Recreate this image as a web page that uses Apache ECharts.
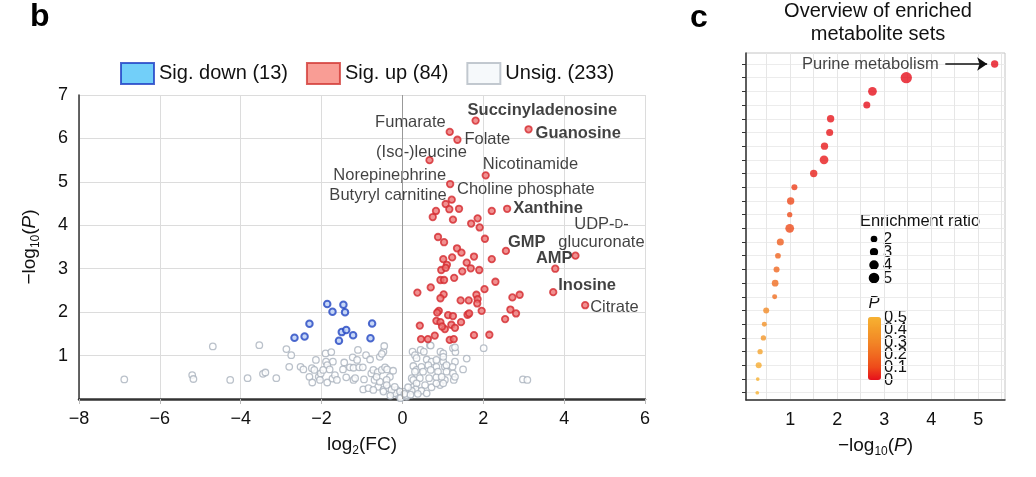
<!DOCTYPE html>
<html><head><meta charset="utf-8">
<script src="https://cdn.jsdelivr.net/npm/echarts@6/dist/echarts.min.js"></script>
<style>html,body{margin:0;padding:0;background:#fff}#chart{width:1036px;height:477px}</style>
</head><body><div id="chart"></div>
<script>
// ---------- Panel b: volcano plot data [log2(FC), -log10(P)] ----------
const sigDown = [
  [-1.86,2.19],[-1.46,2.17],[-1.73,2.01],[-1.42,2.00],[-2.30,1.73],[-0.75,1.74],[-2.67,1.41],
  [-2.42,1.44],[-1.50,1.54],[-1.39,1.59],[-1.22,1.47],[-1.57,1.34],[-0.79,1.40]
];
const sigUp = [
  [1.81,6.41],[3.12,6.21],[1.17,6.15],[1.36,5.97],[0.67,5.50],[2.06,5.15],[1.18,4.95],[1.22,4.59],
  [1.07,4.49],[1.16,4.37],[1.40,4.38],[0.83,4.33],[0.75,4.19],[1.25,4.13],[2.21,4.33],[2.59,4.38],
  [1.86,4.16],[1.70,4.04],[1.91,3.95],[2.04,3.69],[0.88,3.73],[1.03,3.61],[1.35,3.47],[1.46,3.37],
  [1.77,3.28],[2.56,3.41],[4.28,3.30],
  [1.01,3.22],[1.23,3.26],[2.21,3.22],[3.78,3.00],[1.59,3.14],[1.10,3.09],[0.96,2.97],[1.07,3.02],
  [1.48,2.94],[1.69,3.01],[1.90,2.97],[1.28,2.79],[0.94,2.74],[1.03,2.74],[2.30,2.70],[0.70,2.57],
  [0.37,2.45],[1.02,2.41],[2.03,2.53],[3.73,2.46],[0.94,2.32],[1.83,2.40],[1.86,2.30],[1.44,2.27],
  [1.64,2.27],[1.85,2.20],[2.72,2.34],[2.90,2.40],[4.52,2.16],[0.90,2.03],[0.86,1.99],[1.13,1.93],
  [1.25,1.91],[1.61,1.94],[1.65,1.97],[1.96,2.03],[2.67,2.06],[2.81,1.97],[0.84,1.80],[0.94,1.77],
  [1.21,1.71],[1.30,1.64],[1.45,1.77],[1.05,1.61],[0.98,1.67],[2.54,1.84],[0.43,1.69],[0.46,1.38],
  [0.63,1.38],[0.80,1.46],[1.17,1.36],[1.27,1.38],[1.77,1.47],[2.15,1.48]
];
const unsig = [
  [-6.88,0.45],[-5.20,0.55],[-5.17,0.46],[-4.69,1.21],[-4.26,0.44],[-3.83,0.48],[-3.54,1.24],[-3.45,0.58],
  [-3.39,0.61],[-3.12,0.48],[-2.87,1.15],[-2.75,1.01],[-2.80,0.74],[-2.52,0.74],[-2.45,0.68],[-2.24,0.71],
  [-2.18,0.67],[-2.30,0.51],[-2.14,0.90],[-2.07,0.51],[-2.04,0.44],[-2.23,0.38],[-2.02,0.59],[-1.90,1.05],
  [-1.76,1.08],[-1.89,0.86],[-1.72,0.86],[-1.86,0.78],[-1.80,0.68],[-1.96,0.67],[-1.86,0.38],[-1.73,0.47],
  [-1.67,0.55],[-1.62,0.44],[-1.44,0.84],[-1.47,0.68],[-1.39,0.50],[-1.30,0.73],[-1.21,0.44],[-1.17,0.48],
  [-1.10,1.13],[-1.23,0.96],[-1.12,0.90],[-1.21,0.72],[-1.07,0.73],[-0.98,0.73],[-0.90,1.01],[-0.80,0.91],
  [-0.95,0.45],[-0.97,0.22],[-0.84,0.25],[-0.77,0.59],[-0.72,0.67],[-0.69,0.44],[-0.56,0.97],[-0.47,1.09],
  [-0.45,1.22],[-0.51,1.04],[-0.61,0.62],[-0.51,0.67],[-0.43,0.73],[-0.38,0.68],[-0.23,0.65],[-0.31,0.51],
  [-0.39,0.44],[-0.60,0.28],[-0.47,0.21],[-0.35,0.25],[-0.23,0.13],[-0.10,0.09],[-0.02,0.05],[0.02,0.17],
  [0.10,0.05],[-0.14,0.21],[0.25,1.09],[0.31,1.01],[0.27,0.76],[0.35,0.67],[0.23,0.48],[0.27,0.28],
  [2.01,1.17],[1.59,0.93],[0.94,1.09],[1.01,1.05],[1.25,1.17],[1.31,1.08],[0.45,1.13],[0.53,1.09],
  [0.68,1.24],[0.35,0.94],[0.60,0.91],[0.72,0.86],[0.84,0.90],[1.01,0.86],[1.30,0.86],[1.24,0.74],
  [1.05,0.74],[0.84,0.74],[0.64,0.78],[0.47,0.74],[0.31,0.63],[0.51,0.63],[0.70,0.67],[0.88,0.63],
  [1.09,0.63],[1.25,0.59],[1.27,0.44],[1.05,0.44],[0.84,0.50],[0.66,0.48],[0.43,0.48],[0.27,0.44],
  [0.35,0.36],[0.56,0.32],[0.72,0.27],[0.93,0.32],[0.33,0.22],[0.23,0.19],[0.47,0.19],[0.60,0.13],
  [0.10,0.09],[-0.19,0.13],[-0.06,0.17],[0.14,0.27],[1.50,0.68],[1.30,1.19],[0.70,1.23],[1.01,0.97],
  [1.09,0.78],[1.30,0.51],[2.98,0.45],[3.09,0.44],[0.97,0.51],[0.84,0.36],[1.01,0.36],
  [-0.72,0.21],[-0.56,0.40],[-0.64,0.51],[-0.39,0.32],[-0.27,0.21],[-0.47,0.17],[-0.19,0.28],
  [-0.05,0.02],[0.05,0.12],[0.20,0.10],[-0.30,0.08],[0.38,0.12]
];
// annotated metabolites: [name, log2FC, -log10P, bold]
const annotations = [
  ['Succinyladenosine',1.81,6.41,true],['Guanosine',3.12,6.21,true],['Fumarate',1.17,6.15,false],
  ['Folate',1.36,5.97,false],['(Iso-)leucine',0.67,5.50,false],['Nicotinamide',2.06,5.15,false],
  ['Norepinephrine',1.18,4.95,false],['Butyryl carnitine',1.22,4.59,false],['Choline phosphate',1.40,4.38,false],
  ['Xanthine',2.59,4.38,true],['UDP-D-glucuronate',4.28,3.30,false],['GMP',2.56,3.41,true],
  ['AMP',3.78,3.00,true],['Inosine',3.73,2.46,true],['Citrate',4.52,2.16,false]
];
const legendNames = ['Sig. down (13)','Sig. up (84)','Unsig. (233)'];
const volcanoXTicks = [-8,-6,-4,-2,0,2,4,6];
const volcanoYTicks = [1,2,3,4,5,6,7];

// ---------- Panel c: enriched metabolite sets ----------
const setNames = ['Purine metabolism','','','','','','','','','','','','','','','','','','','','','','','',''];
const setLog10P = [5.35,3.47,2.75,2.63,1.86,1.84,1.73,1.72,1.50,1.09,1.01,0.99,0.99,0.79,0.74,0.71,0.68,0.67,0.49,0.45,0.43,0.36,0.33,0.31,0.30];
const setEnrichment = [2.4,5.7,3.4,2.2,2.4,2.2,2.4,3.4,2.4,1.6,2.4,1.25,3.4,2.2,1.45,1.6,2.0,1.1,1.6,1.1,1.25,1.25,1.6,0.6,0.6];
const enrichLegendValues = [2,3,4,5];
const pLegendValues = [0.5,0.4,0.3,0.2,0.1,0];
const setXTicks = [1,2,3,4,5];
const setXGrid = [0.5,1,1.5,2,2.5,3,3.5,4,4.5,5,5.5];

// ---------- styles (kept separate from data) ----------
const FONT = '"Liberation Sans", Arial, Helvetica, sans-serif';
const INK = '#111';
const minus = v => String(v).replace('-', '\u2212');
const sizeOf = er => 4.75 * Math.sqrt(er);
const labelPlacement = {
  'Succinyladenosine':['left',-8,-10], 'Guanosine':['left',7,4], 'Fumarate':['right',-4,-9],
  'Folate':['left',7,0], '(Iso-)leucine':['center',-8,-8], 'Nicotinamide':['left',-3,-11],
  'Norepinephrine':['right',-4,-9], 'Butyryl carnitine':['right',-5,-4], 'Choline phosphate':['left',-2,-19],
  'Xanthine':['left',6,0], 'UDP-D-glucuronate':['center',26,-22], 'GMP':['left',2,-8],
  'AMP':['center',-1,-10], 'Inosine':['left',5,-7], 'Citrate':['left',5,2]
};
const labelText = { 'UDP-D-glucuronate': 'UDP-{sc|D}-\nglucuronate' };
const pColors = ['#e60f1c','#ee4a1a','#f06a20','#f28626','#f49c2a','#f7b232'];

const upData = sigUp.map(p => {
  const a = annotations.find(an => an[1] === p[0] && an[2] === p[1]);
  if (!a) return p;
  const pl = labelPlacement[a[0]];
  return {
    value: p,
    label: {
      show: true, position: 'inside', align: pl[0], verticalAlign: 'middle',
      offset: [pl[1], pl[2]], formatter: labelText[a[0]] || a[0],
      fontSize: 16.5, lineHeight: 18, fontFamily: FONT, color: INK,
      fontWeight: a[3] ? 'bold' : 'normal',
      rich: { sc: { fontSize: 12, fontFamily: FONT, color: INK } }
    }
  };
});

const setData = setLog10P.map((v, i) => {
  const item = { value: [v, i, setEnrichment[i], Math.pow(10, -v)] };
  if (setNames[i]) {
    item.label = { show: true, position: 'inside', align: 'right', verticalAlign: 'middle',
      offset: [-56, 0], formatter: setNames[i], fontSize: 16.5, fontFamily: FONT, color: INK };
  }
  return item;
});

// colour bar geometry for the P legend
const barLeft = 868, barTop = 317, barW = 13, barH = 63;
const pLabelY = p => barTop + (0.5 - p) / 0.5 * barH;

const graphic = [
  { type: 'text', x: 30, y: 17, style: { text: 'b', fontSize: 32, fontWeight: 'bold', fontFamily: FONT, fill: '#000', verticalAlign: 'middle' } },
  { type: 'text', x: 690, y: 18, style: { text: 'c', fontSize: 32, fontWeight: 'bold', fontFamily: FONT, fill: '#000', verticalAlign: 'middle' } },
  { type: 'text', x: 878, y: 0, style: { text: 'Overview of enriched\nmetabolite sets', fontSize: 20, lineHeight: 23, fontFamily: FONT, fill: INK, align: 'center', verticalAlign: 'top' } },
  { type: 'text', x: 920, y: 221, style: { text: 'Enrichment ratio', fontSize: 16.5, fontFamily: FONT, fill: INK, align: 'center', verticalAlign: 'middle' } },
  { type: 'text', x: 874, y: 303, style: { text: 'P', fontSize: 16.5, fontStyle: 'italic', fontFamily: FONT, fill: INK, align: 'center', verticalAlign: 'middle' } }
];
enrichLegendValues.forEach((er, i) => {
  const cy = 239 + i * 13;
  graphic.push({ type: 'circle', shape: { cx: 874, cy: cy, r: sizeOf(er) / 2 }, style: { fill: '#000' } });
  graphic.push({ type: 'text', x: 883, y: cy, style: { text: String(er), fontSize: 16.5, fontFamily: FONT, fill: INK, verticalAlign: 'middle' } });
});
pLegendValues.forEach(p => {
  graphic.push({ type: 'text', x: 884, y: pLabelY(p), style: { text: String(p), fontSize: 16.5, lineHeight: 14, fontFamily: FONT, fill: INK, verticalAlign: 'middle' } });
});

const axisNameRich = {
  sub: { fontSize: 12, lineHeight: 12, verticalAlign: 'bottom', fontFamily: FONT, color: INK },
  it: { fontSize: 19, fontStyle: 'italic', fontFamily: FONT, color: INK, lineHeight: 24 }
};

const option = {
  animation: false,
  textStyle: { fontFamily: FONT },
  graphic: graphic,
  legend: {
    left: 120, top: 62, padding: 0, itemWidth: 33, itemHeight: 21, itemGap: 18,
    selectedMode: false, icon: 'rect',
    textStyle: { fontSize: 20, color: INK, fontFamily: FONT },
    data: [
      { name: legendNames[0], itemStyle: { color: '#4fc3f7', borderColor: '#1f3fc4', borderWidth: 2 } },
      { name: legendNames[1], itemStyle: { color: '#f7857a', borderColor: '#d23a36', borderWidth: 2 } },
      { name: legendNames[2], itemStyle: { color: '#f4f8fa', borderColor: '#b4bcc4', borderWidth: 2 } }
    ]
  },
  visualMap: {
    type: 'continuous', seriesIndex: 3, dimension: 3, min: 0, max: 0.5,
    inRange: { color: pColors }, show: true, orient: 'vertical',
    left: barLeft - 5, top: barTop - 5, padding: 5, itemWidth: barW, itemHeight: barH,
    calculable: false, hoverLink: false, text: null
  },
  grid: [
    { left: 79, right: 391, top: 95, bottom: 78 },
    { left: 746, right: 31, top: 53, bottom: 77, show: true, borderColor: '#c4c4c4', borderWidth: 1 }
  ],
  xAxis: [
    { type: 'value', gridIndex: 0, min: volcanoXTicks[0], max: volcanoXTicks[volcanoXTicks.length - 1], interval: 2,
      axisLine: { onZero: false, lineStyle: { color: '#333', width: 2.5 } },
      axisTick: { show: true, length: 5, lineStyle: { color: '#bbb' } },
      axisLabel: { fontSize: 18, color: INK, margin: 11, formatter: minus },
      splitLine: { show: true, lineStyle: { color: '#dcdcdc' } },
      name: 'log{sub|2}(FC)', nameLocation: 'middle', nameGap: 34,
      nameTextStyle: { fontSize: 19, color: INK, lineHeight: 24, rich: axisNameRich } },
    { type: 'value', gridIndex: 1, min: 0.06, max: 5.57,
      axisLine: { onZero: false, lineStyle: { color: '#333', width: 1.5 } },
      axisTick: { show: false, customValues: setXGrid },
      axisLabel: { fontSize: 18, color: INK, margin: 11, customValues: setXTicks },
      splitLine: { show: true, lineStyle: { color: '#e6e6e6' } },
      name: '\u2212log{sub|10}({it|P})', nameLocation: 'middle', nameGap: 33,
      nameTextStyle: { fontSize: 19, color: INK, lineHeight: 24, rich: axisNameRich } }
  ],
  yAxis: [
    { type: 'value', gridIndex: 0, min: 0, max: volcanoYTicks[volcanoYTicks.length - 1], interval: 1,
      axisLine: { show: true, onZero: false, lineStyle: { color: '#333', width: 1.5 } },
      axisTick: { show: false },
      axisLabel: { fontSize: 18, color: INK, margin: 11, formatter: v => (v === 0 ? '' : String(v)) },
      splitLine: { show: true, lineStyle: { color: '#dcdcdc' } },
      name: '\u2212log{sub|10}({it|P})', nameLocation: 'middle', nameGap: 37,
      nameTextStyle: { fontSize: 19, color: INK, lineHeight: 24, rich: axisNameRich } },
    { type: 'value', gridIndex: 1, inverse: true, min: -0.8, max: 24.53,
      axisLine: { show: true, onZero: false, lineStyle: { color: '#333', width: 1.5 } },
      axisTick: { show: true, length: 4, customValues: setLog10P.map((v, i) => i), lineStyle: { color: '#333' } },
      axisLabel: { show: false },
      splitLine: { show: true, lineStyle: { color: '#ececec' } } }
  ],
  series: [
    { name: legendNames[2], type: 'scatter', xAxisIndex: 0, yAxisIndex: 0, data: unsig, symbolSize: 6.5,
      itemStyle: { color: '#ffffff', borderColor: '#a9b1bd', borderWidth: 1.3 },
      markLine: { silent: true, symbol: 'none', label: { show: false },
        lineStyle: { color: '#999', width: 1, type: 'solid' }, data: [{ xAxis: 0 }] } },
    { name: legendNames[0], type: 'scatter', xAxisIndex: 0, yAxisIndex: 0, data: sigDown, symbolSize: 6.5,
      itemStyle: { color: '#b9cdf5', borderColor: '#2346c2', borderWidth: 2 } },
    { name: legendNames[1], type: 'scatter', xAxisIndex: 0, yAxisIndex: 0, data: upData, symbolSize: 6.5,
      itemStyle: { color: '#ec7474', borderColor: '#d42a2f', borderWidth: 1.8 } },
    { name: 'sets', type: 'scatter', xAxisIndex: 1, yAxisIndex: 1, data: setData,
      encode: { x: 0, y: 1 }, symbolSize: v => sizeOf(v[2]),
      markLine: { silent: true, symbol: ['none', 'arrow'], symbolSize: 10, label: { show: false },
        lineStyle: { color: '#111', width: 1.5, type: 'solid' },
        data: [[{ coord: [4.30, 0] }, { coord: [5.19, 0] }]] } }
  ]
};

const chart = echarts.init(document.getElementById('chart'), null, { renderer: 'canvas' });
chart.setOption(option);
</script>
</body></html>
